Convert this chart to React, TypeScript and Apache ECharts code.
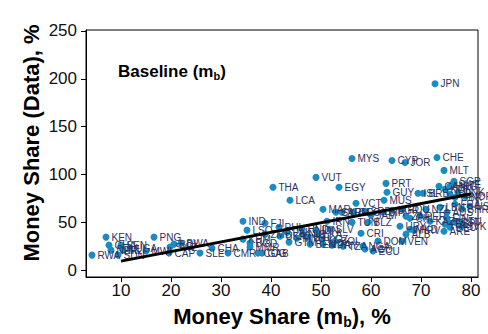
import React, { useEffect, useRef } from "react";
import * as echarts from "echarts";

const names = [
  "JPN","CHE","CYP","JOR","MYS","MLT","VUT","THA","EGY","PRT","GUY","SGP","LCA","MUS","VCT","MAR",
  "ISL","BRB","CAN","KOR","HKG","SWE","IRL","GBR","DNK","NOR","USA","NZL","LBN","AUS","FRA","BHR",
  "ZAF","CHL","PER","KAZ","FIN","ITA","ESP","EST","LTU","DEU","SVK","ARE","URY","MKD","HRV","VEN",
  "BGR","ROU","SYR","ARM","GEO","SRB","JAM","BIH","TUN","BLZ","IRN","SLV","CRI","HND","NIC","HTI",
  "LKA","KGZ","MDA","BEN","PRY","BOL","TZA","NGA","AGO","ECU","DOM","ALB","IND","FJI","PHL","LSO",
  "KHM","BGD","MMR","ZMB","UKR","GTM","PAK","MNG","IDN","COG","GAB","CMR","SLE","CHA","KEN","GHA",
  "NER","SEN","MLI","SDN","RWA","UGA","PNG","MWI","CAP","SWZ","BDI","BWA"
];
const xs = [
  72.8,73.2,64.2,66.8,56.2,74.6,49.0,40.4,53.6,63.0,63.2,76.6,43.8,62.6,57.0,50.4,
  69.4,70.4,73.6,74.8,75.8,76.4,75.8,76.8,77.4,78.8,79.8,71.0,73.8,75.2,76.8,78.2,
  67.0,67.8,69.8,71.8,75.2,74.8,75.8,76.8,77.4,75.8,78.0,74.6,65.8,67.8,68.6,66.2,
  64.2,66.2,53.0,54.2,56.4,58.8,60.0,62.4,56.2,59.4,51.2,51.8,58.0,46.2,46.4,47.4,
  49.4,50.2,50.4,47.8,52.2,52.8,54.4,58.4,58.8,60.4,61.4,67.0,34.4,38.8,41.6,35.2,
  34.4,35.8,35.8,38.8,41.8,43.6,43.2,45.2,49.0,37.4,38.2,31.4,25.8,28.2,7.0,7.6,
  8.0,10.0,10.4,9.4,4.2,11.8,16.6,15.0,19.6,19.8,20.6,22.0
];
const ys = [
  194.8,117.7,114.6,112.5,116.7,104.2,96.9,86.5,86.5,90.6,81.3,92.7,72.9,72.9,69.8,63.5,
  80.2,80.2,87.5,84.4,87.5,89.6,79.2,76.0,81.3,77.1,66.7,63.5,65.6,60.4,68.8,63.5,
  56.3,54.2,56.3,51.0,54.2,47.9,49.0,50.0,51.0,44.8,45.8,40.6,45.8,42.7,41.7,30.2,
  62.5,63.5,60.4,60.4,60.4,61.5,57.3,60.4,50.0,50.0,51.0,42.7,38.5,42.7,37.5,34.4,
  37.5,32.3,27.1,27.1,26.0,30.2,25.0,25.0,21.9,19.8,30.2,37.5,51.0,49.0,44.8,41.7,
  32.3,28.1,24.0,37.5,35.4,29.2,39.6,33.3,41.7,17.7,17.7,17.7,17.7,22.9,34.4,26.0,
  20.8,26.0,20.8,15.6,15.6,22.9,34.4,19.8,17.7,24.0,27.1,28.1
];
const fitX = [10, 80];
const fitY = [9.3, 79.5];
const yTicks = [0, 50, 100, 150, 200, 250];
const xTicks = [10, 20, 30, 40, 50, 60, 70, 80];

const FONT = "'Liberation Sans', Arial, sans-serif";

export default function App() {
  const ref = useRef<HTMLDivElement>(null);
  useEffect(() => {
    if (!ref.current) return;
    const chart = echarts.init(ref.current, null, { renderer: "svg" });
    const points = names.map((n, i) => ({ name: n, value: [xs[i], ys[i]] }));
    const fit = fitX.map((x, i) => [x, fitY[i]]);
    chart.setOption({
      animation: false,
      backgroundColor: "#fff",
      textStyle: { fontFamily: FONT },
      grid: { left: 86, right: 10, top: 30, bottom: 56, show: true, borderColor: "#000", borderWidth: 1 },
      title: {
        text: "{a|Baseline (m}{s|b}{a|)}",
        left: 113,
        top: 56,
        textStyle: {
          rich: {
            a: { fontSize: 17, fontWeight: "bold", color: "#000", fontFamily: FONT, lineHeight: 20 },
            s: { fontSize: 11, fontWeight: "bold", color: "#000", fontFamily: FONT, verticalAlign: "bottom", lineHeight: 13, padding: [4, 0, 0, 0] },
          },
        },
      },
      xAxis: {
        type: "value",
        min: 3,
        max: 81.4,
        name: "{a|Money Share (m}{s|b}{a|), %}",
        nameLocation: "middle",
        nameGap: 26,
        nameTextStyle: {
          rich: {
            a: { fontSize: 22, fontWeight: "bold", color: "#000", fontFamily: FONT, lineHeight: 26 },
            s: { fontSize: 14, fontWeight: "bold", color: "#000", fontFamily: FONT, verticalAlign: "bottom", lineHeight: 16, padding: [5, 0, 0, 0] },
          },
        },
        axisLine: { show: true, onZero: false, lineStyle: { color: "#000", width: 1 } },
        axisTick: { show: true, inside: false, length: 5, customValues: xTicks, lineStyle: { color: "#000" } },
        axisLabel: { customValues: xTicks, fontSize: 17, color: "#111", margin: 5, fontFamily: FONT },
        splitLine: { show: false },
      },
      yAxis: {
        type: "value",
        min: -7.3,
        max: 251,
        axisLine: { show: true, onZero: false, lineStyle: { color: "#000", width: 1 } },
        axisTick: { show: true, inside: false, length: 5, customValues: yTicks, lineStyle: { color: "#000" } },
        axisLabel: { customValues: yTicks, fontSize: 17, color: "#111", margin: 9, fontFamily: FONT },
        splitLine: { show: false },
      },
      graphic: [
        {
          type: "text",
          x: 31,
          y: 143,
          rotation: Math.PI / 2,
          style: {
            text: "Money Share (Data), %",
            font: `bold 22px ${FONT}`,
            fill: "#000",
            textAlign: "center",
            textVerticalAlign: "middle",
          },
        },
      ],
      series: [
        {
          type: "scatter",
          data: points,
          symbolSize: 7,
          itemStyle: { color: "#1a8cc4", opacity: 1 },
          label: {
            show: true,
            position: "right",
            distance: 2,
            formatter: "{b}",
            fontSize: 10,
            color: "#2e3260",
            fontFamily: FONT,
          },
          z: 2,
        },
        {
          type: "line",
          data: fit,
          symbol: "none",
          lineStyle: { color: "#000", width: 3 },
          z: 5,
          silent: true,
        },
      ],
    });
    return () => chart.dispose();
  }, []);
  return <div ref={ref} style={{ position: "fixed", left: 0, top: 0, width: 488, height: 334 }} />;
}
